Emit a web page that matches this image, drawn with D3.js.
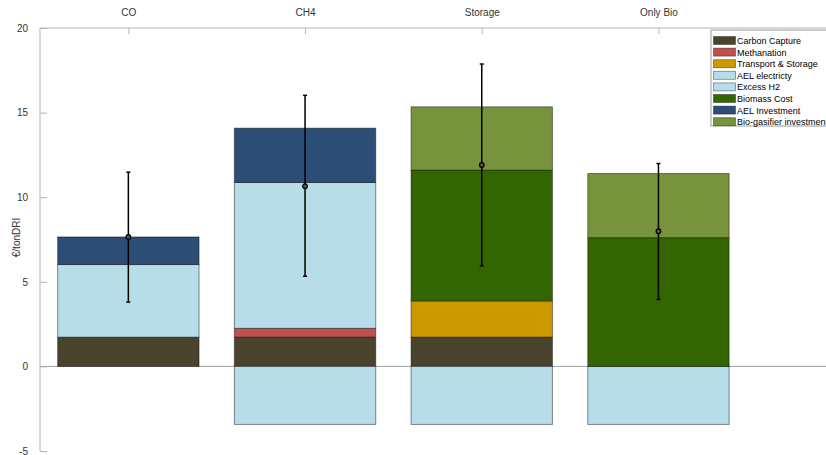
<!DOCTYPE html>
<html>
<head>
<meta charset="utf-8">
<script src="https://cdn.jsdelivr.net/npm/d3@7"></script>
<style>
  html, body { margin: 0; padding: 0; background: #fff; }
  svg { display: block; font-family: "Liberation Sans", Arial, sans-serif; }
</style>
</head>
<body>
<svg id="chart" width="826" height="455"></svg>
<script>
// Scenarios along the top axis
const categories = ["CO", "CH4", "Storage", "Only Bio"];

// Cost components (€/tonDRI), one value per scenario
const carbonCapture    = [1.73, 1.73, 1.73, 0];
const methanation      = [0, 0.52, 0, 0];
const transportStorage = [0, 0, 2.14, 0];
const aelElectricity   = [4.29, 8.62, 0, 0];
const excessH2         = [0, -3.43, -3.43, -3.43];
const biomassCost      = [0, 0, 7.73, 7.61];
const aelInvestment    = [1.63, 3.21, 0, 0];
const bioGasifier      = [0, 0, 3.74, 3.79];

// Uncertainty: central estimate with low/high bounds
const errMean = [7.65, 10.65, 11.91, 7.99];
const errLow  = [3.80, 5.33, 5.94, 3.96];
const errHigh = [11.48, 16.02, 17.87, 11.99];

const yTicks = [-5, 0, 5, 10, 15, 20];

const series = [
  { key: "carbonCapture",    label: "Carbon Capture",          values: carbonCapture,    color: "#4a442d" },
  { key: "methanation",      label: "Methanation",             values: methanation,      color: "#c0504d" },
  { key: "transportStorage", label: "Transport & Storage",     values: transportStorage, color: "#cc9900" },
  { key: "aelElectricity",   label: "AEL electricty",          values: aelElectricity,   color: "#b7dde8" },
  { key: "excessH2",         label: "Excess H2",               values: excessH2,         color: "#b7dde8" },
  { key: "biomassCost",      label: "Biomass Cost",            values: biomassCost,      color: "#336600" },
  { key: "aelInvestment",    label: "AEL Investment",          values: aelInvestment,    color: "#2c4d75" },
  { key: "bioGasifier",      label: "Bio-gasifier investment", values: bioGasifier,      color: "#77933c" }
];

const rows = categories.map((c, i) => {
  const r = { cat: c, idx: i + 1 };
  series.forEach(s => { r[s.key] = s.values[i]; });
  return r;
});

const svg = d3.select("#chart");
const W = 826;
const plotLeft = 40, plotTop = 28, plotBottom = 451;

const x = d3.scaleLinear().domain([0.5, 5]).range([plotLeft, plotLeft + 4.5 * 176.7]);
const y = d3.scaleLinear().domain([-5, 20]).range([plotBottom, plotTop]);
const barW = x(1.8) - x(1);

const axisColor = "#b4b4b4";
const textColor = "#333333";

// Zero baseline
svg.append("line")
  .attr("x1", plotLeft).attr("x2", W)
  .attr("y1", y(0)).attr("y2", y(0))
  .attr("stroke", "#a0a0a0").attr("stroke-width", 1);

// Stacked bars (positives up, negatives down)
const stack = d3.stack()
  .keys(series.map(s => s.key))
  .offset(d3.stackOffsetDiverging);
const layers = stack(rows);

const gBars = svg.append("g");
layers.forEach((layer, li) => {
  const s = series[li];
  gBars.selectAll(null)
    .data(layer.filter(d => d.data[s.key] !== 0))
    .enter().append("rect")
    .attr("x", d => x(d.data.idx) - barW / 2)
    .attr("width", barW)
    .attr("y", d => y(Math.max(d[0], d[1])))
    .attr("height", d => Math.abs(y(d[0]) - y(d[1])))
    .attr("fill", s.color)
    .attr("stroke", "rgba(0,0,0,0.45)")
    .attr("stroke-width", 1);
});

// Error bars
const gErr = svg.append("g");
const capW = 2;
rows.forEach((r, i) => {
  const cx = x(r.idx);
  gErr.append("line")
    .attr("x1", cx).attr("x2", cx)
    .attr("y1", y(errLow[i])).attr("y2", y(errHigh[i]))
    .attr("stroke", "#000").attr("stroke-width", 1.5);
  [errLow[i], errHigh[i]].forEach(v => {
    gErr.append("line")
      .attr("x1", cx - capW).attr("x2", cx + capW)
      .attr("y1", y(v)).attr("y2", y(v))
      .attr("stroke", "#000").attr("stroke-width", 1.5);
  });
  gErr.append("circle")
    .attr("cx", cx).attr("cy", y(errMean[i]))
    .attr("r", 2.3)
    .attr("fill", "#555").attr("stroke", "#000").attr("stroke-width", 1.2);
});

// Left axis (hyphen-minus for negative labels)
const yAxis = d3.axisLeft(y).tickValues(yTicks).tickSize(-7).tickPadding(12)
  .tickFormat(d => String(d));
const gy = svg.append("g").attr("transform", `translate(${plotLeft},0)`).call(yAxis);
gy.select(".domain").attr("stroke", axisColor).attr("d", `M0,${plotTop}V${plotBottom}`);
gy.selectAll(".tick line").attr("stroke", axisColor);
gy.selectAll(".tick text").attr("fill", textColor).style("font-size", "10px")
  .style("font-family", "'Liberation Sans', Arial, sans-serif");

// Top axis with scenario names
const xAxis = d3.axisTop(x).tickValues([1, 2, 3, 4]).tickSize(-6).tickPadding(12)
  .tickFormat(d => categories[d - 1]);
const gx = svg.append("g").attr("transform", `translate(0,${plotTop})`).call(xAxis);
gx.select(".domain").attr("stroke", axisColor).attr("d", `M${plotLeft},0H${W}`);
gx.selectAll(".tick line").attr("stroke", axisColor);
gx.selectAll(".tick text").attr("fill", textColor).style("font-size", "10px")
  .style("font-family", "'Liberation Sans', Arial, sans-serif");

// Y label
svg.append("text")
  .attr("transform", `translate(20,${(plotTop + plotBottom) / 2 - 2}) rotate(-90)`)
  .attr("text-anchor", "middle")
  .attr("fill", textColor)
  .style("font-size", "10px")
  .text("€/tonDRI");

// Legend
const lg = svg.append("g").attr("transform", "translate(711,30)");
lg.append("rect")
  .attr("x", 0).attr("y", 0).attr("width", 130).attr("height", 96)
  .attr("fill", "#fff").attr("stroke", "#9a9a9a").attr("stroke-width", 1);
series.forEach((s, i) => {
  const ry = 6.5 + i * 11.6;
  lg.append("rect")
    .attr("x", 2.5).attr("y", ry).attr("width", 22).attr("height", 8)
    .attr("fill", s.color).attr("stroke", "rgba(0,0,0,0.45)").attr("stroke-width", 0.8);
  lg.append("text")
    .attr("x", 26).attr("y", ry + 7.5)
    .attr("fill", "#000")
    .style("font-size", "9px")
    .text(s.label);
});
</script>
</body>
</html>
